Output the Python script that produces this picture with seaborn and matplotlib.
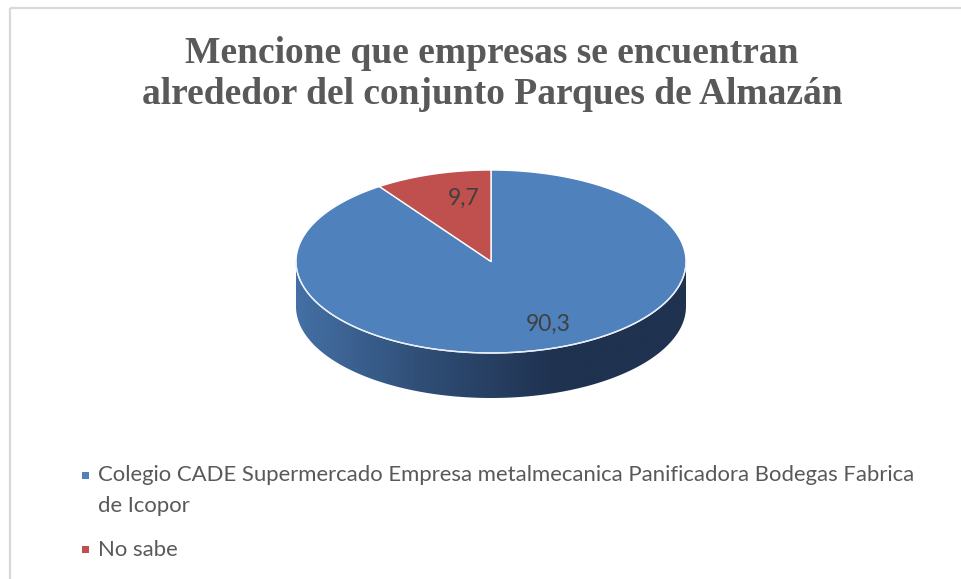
import textwrap
import numpy as np
import matplotlib
matplotlib.use("Agg")
import matplotlib.pyplot as plt
import seaborn as sns
from matplotlib.patches import Polygon, Rectangle
from matplotlib.colors import LinearSegmentedColormap

# ---------------- data ----------------
title = "Mencione que empresas se encuentran\nalrededor del conjunto Parques de Almazán"
categories = ["Colegio CADE Supermercado Empresa metalmecanica Panificadora Bodegas Fabrica de Icopor",
              "No sabe"]
values = [90.3, 9.7]
value_labels = ["90,3", "9,7"]

sns.set_theme(style="white")
palette = sns.color_palette(["#4f81bd", "#c0504d"])
side_dark = ["#1f3250", "#5a2220"]
side_light = ["#4470a5", "#8f3b39"]

W, H = 961, 579
fig = plt.figure(figsize=(W / 100, H / 100), dpi=100)
ax = fig.add_axes([0, 0, 1, 1])
ax.set_xlim(0, W)
ax.set_ylim(H, 0)
ax.axis("off")

# chart border
ax.add_patch(Rectangle((9.5, 7.5), W + 20, H + 20, fill=False, edgecolor="#d9d9d9", lw=1.6))

# pie geometry (pixel layout)
cx, cy, rx, ry, depth = 491, 261.5, 195, 91.5, 45

def pt(theta, dy=0.0):
    return cx + rx * np.cos(theta), cy - ry * np.sin(theta) + dy

total = sum(values)
starts, ends = [], []
cum = 0.0
for v in values:
    a0 = np.pi / 2 - 2 * np.pi * cum / total
    cum += v
    a1 = np.pi / 2 - 2 * np.pi * cum / total
    starts.append(a0)
    ends.append(a1)

# side walls (front half: theta in [pi, 2pi] mod 2pi)
for i in range(len(values)):
    lo, hi = ends[i], starts[i]
    for k in range(-2, 2):
        s0 = max(lo, np.pi + 2 * np.pi * k)
        s1 = min(hi, 2 * np.pi + 2 * np.pi * k)
        if s1 <= s0:
            continue
        th = np.linspace(s0, s1, 200)
        xt, yt = pt(th)
        xb, yb = pt(th[::-1], depth)
        poly = Polygon(np.column_stack([np.r_[xt, xb], np.r_[yt, yb]]), closed=True,
                       facecolor="none", edgecolor="none")
        ax.add_patch(poly)
        cmap = LinearSegmentedColormap.from_list(
            "side", [side_light[i], "#2f4d75" if i == 0 else side_dark[i], side_dark[i], side_dark[i]])
        grad = np.linspace(0, 1, 256).reshape(1, -1)
        im = ax.imshow(grad, cmap=cmap, aspect="auto",
                       extent=(cx - rx, cx + rx, cy + ry + depth, cy - ry), zorder=2)
        im.set_clip_path(poly)

# top faces
for i in range(len(values)):
    th = np.linspace(starts[i], ends[i], 300)
    xs, ys = pt(th)
    verts = np.column_stack([np.r_[cx, xs], np.r_[cy, ys]])
    ax.add_patch(Polygon(verts, closed=True, facecolor=palette[i], edgecolor="white",
                         lw=1.0, joinstyle="round", zorder=3))

# front rim highlight
th = np.linspace(np.pi, 2 * np.pi, 300)
xs, ys = pt(th)
ax.plot(xs, ys, color="#e8eef7", lw=1.0, zorder=4)

# data labels
for i in range(len(values)):
    mid = (starts[i] + ends[i]) / 2
    lx, ly = pt(mid)
    lx = cx + 0.72 * (lx - cx) + 15
    ly = cy + 0.72 * (ly - cy)
    ax.text(lx, ly, value_labels[i], ha="center", va="center", fontsize=16.5,
            family="Lato", color="#404040", zorder=5)

# title
ax.text(492, 74, title, ha="center", va="center", fontsize=27, fontweight="bold",
        family="Liberation Serif", color="#595959", linespacing=1.2)

# legend
leg_y = 475
for i, cat in enumerate(categories):
    lines = textwrap.wrap(cat, 76)
    ax.add_patch(Rectangle((82, leg_y - 3.5), 7, 7, facecolor=palette[i], edgecolor="none"))
    for j, line in enumerate(lines):
        ax.text(98, leg_y + j * 30.5, line, ha="left", va="center", fontsize=15.9,
                family="Lato", color="#595959")
    leg_y += 30.5 * len(lines) + 13.5

fig.savefig("out.png", dpi=100, facecolor="white")
